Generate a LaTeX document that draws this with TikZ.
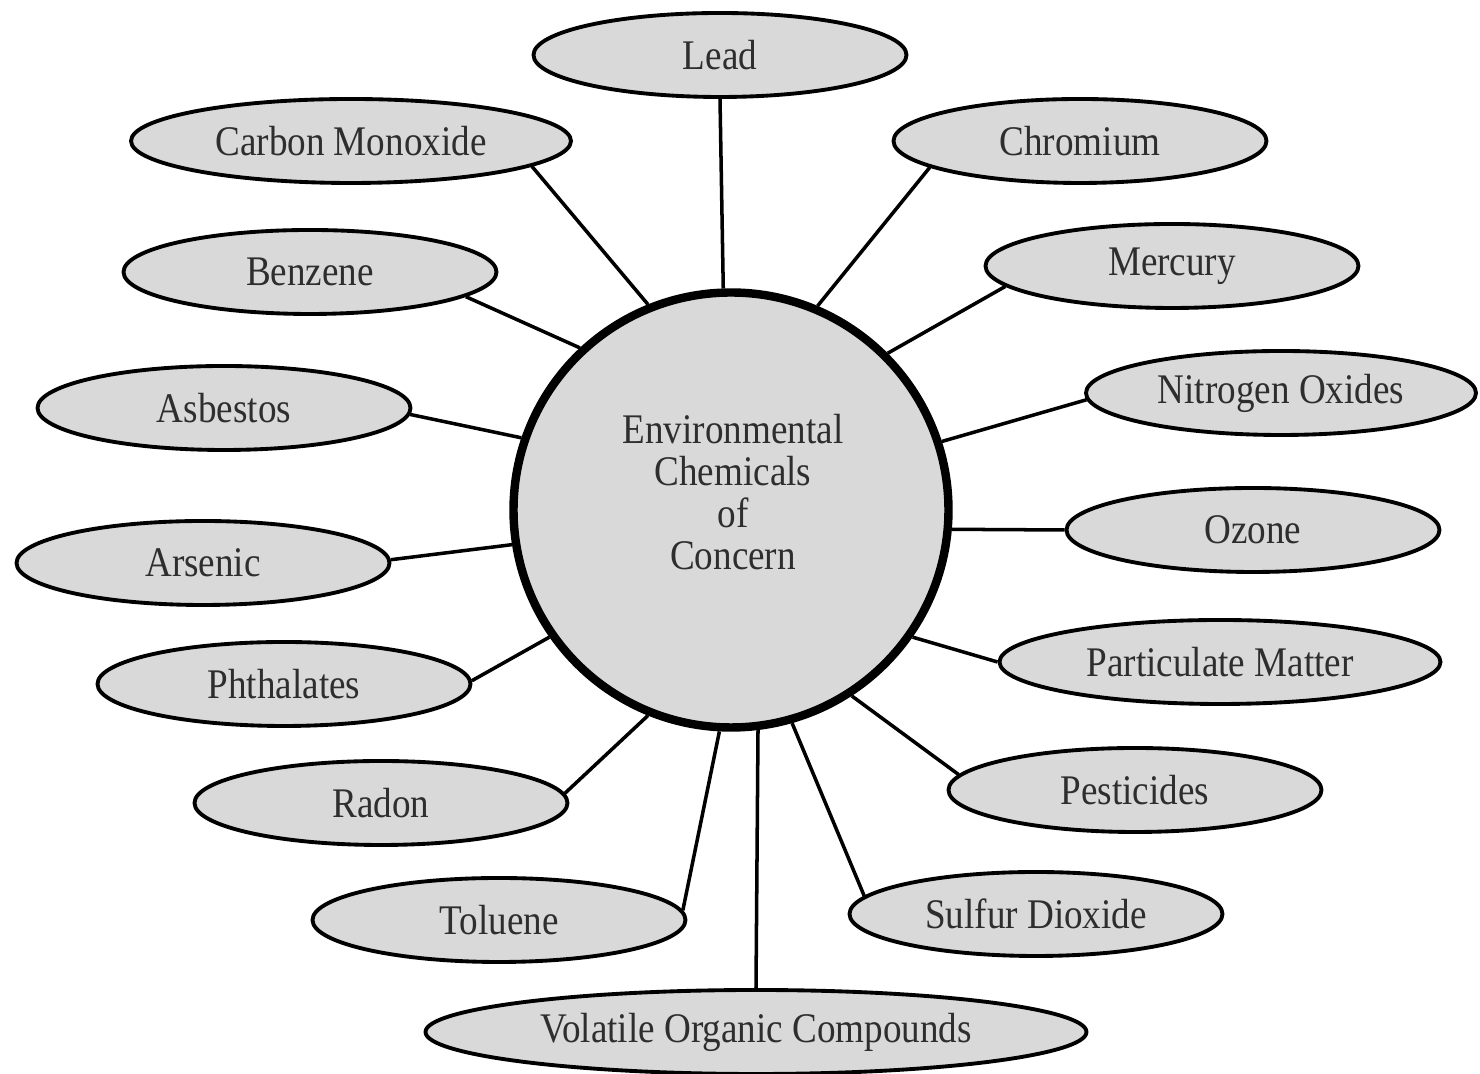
\documentclass[tikz,border=0pt]{standalone}
\usepackage{fontspec}
\setmainfont[FakeStretch=0.88]{Liberation Serif}
\usepackage{tikz}
\usetikzlibrary{shapes.geometric}
\definecolor{bubblegray}{HTML}{D9D9D9}
\definecolor{inkgray}{HTML}{2E2E2E}
\tikzset{
         chem/.style=
          {
           ellipse,draw=black,line width=1.1pt,fill=bubblegray,
           minimum width=3.73cm,minimum height=.84cm,inner sep=0pt,
           text=inkgray,font=\fontsize{12}{12}\selectfont
          },
         hubcircle/.style=
          {
           circle,draw=black,line width=2.4pt,fill=bubblegray,
           minimum size=4.35cm,inner sep=0pt
          },
         spoke/.style={line width=1pt}
        }

\begin{document}
\begin{tikzpicture}
\useasboundingbox(0,0)rectangle(14.8,10.74);
%centre
\node[hubcircle](hub)at(7.31,5.64){};
\node[text=inkgray,align=center,font=\fontsize{12}{12}\selectfont](hubtext)at(7.33,5.82){Environmental\\Chemicals\\of\\Concern};
%chemicals
\node[chem](lead)at(7.20,10.19){Lead};
\node[chem,minimum width=4.40cm](co)at(3.51,9.33){Carbon Monoxide};
\node[chem](chromium)at(10.80,9.33){Chromium};
\node[chem](benzene)at(3.10,8.02){Benzene};
\node[chem](mercury)at(11.72,8.08){Mercury};
\node[chem](asbestos)at(2.24,6.66){Asbestos};
\node[chem,minimum width=3.90cm](nitrogen)at(12.81,6.81){Nitrogen Oxides};
\node[chem](arsenic)at(2.03,5.11){Arsenic};
\node[chem](ozone)at(12.53,5.44){Ozone};
\node[chem](phthalates)at(2.84,3.90){Phthalates};
\node[chem,minimum width=4.41cm](pm)at(12.20,4.12){Particulate Matter};
\node[chem](radon)at(3.81,2.71){Radon};
\node[chem](pesticides)at(11.35,2.84){Pesticides};
\node[chem](toluene)at(4.99,1.54){Toluene};
\node[chem](sulfur)at(10.36,1.60){Sulfur Dioxide};
\node[chem,minimum width=6.61cm](voc)at(7.56,.42){Volatile Organic Compounds};
%spokes
\draw[spoke](hub.92)--(lead.south);
\draw[spoke](hub.112)--(co.-8);
\draw[spoke](hub.67)--(chromium.190);
\draw[spoke](hub.133)--(benzene.-9);
\draw[spoke](hub.45)--(mercury.187);
\draw[spoke](hub.161)--(asbestos.-2);
\draw[spoke](hub.18)--(nitrogen.182);
\draw[spoke](hub.189)--(arsenic.1);
\draw[spoke](hub.-5)--(ozone.180);
\draw[spoke](hub.215)--(phthalates.1);
\draw[spoke](hub.-35)--(pm.180);
\draw[spoke](hub.248)--(radon.3);
\draw[spoke](hub.-57)--(pesticides.175);
\draw[spoke](hub.267)--(toluene.3);
\draw[spoke](hub.-74)--(sulfur.174);
\draw[spoke](hub.-83)--(voc.north);
\end{tikzpicture}
\end{document}
